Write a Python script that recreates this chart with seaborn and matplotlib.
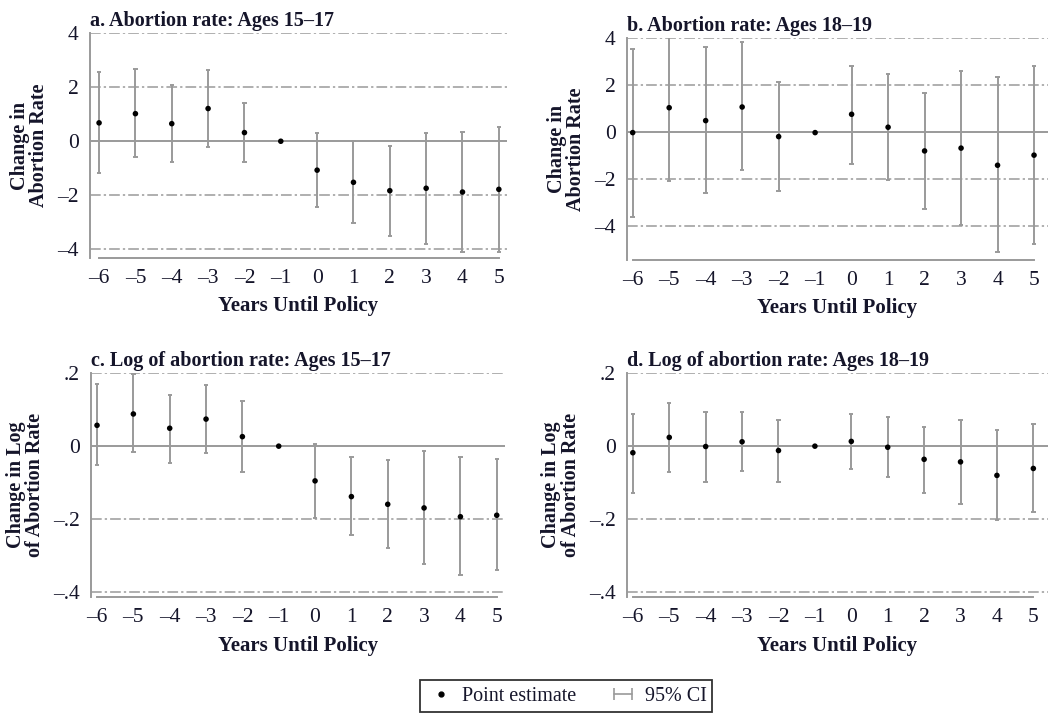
import numpy as np
import pandas as pd
import matplotlib
matplotlib.use("Agg")
import matplotlib.pyplot as plt
import seaborn as sns
from matplotlib.lines import Line2D
from matplotlib.legend_handler import HandlerLine2D

years = [-6, -5, -4, -3, -2, -1, 0, 1, 2, 3, 4, 5]

# a. Abortion rate: Ages 15-17
a_est = [0.68, 1.02, 0.65, 1.21, 0.32, 0.0, -1.07, -1.52, -1.83, -1.74, -1.88, -1.78]
a_lo = [-1.17, -0.59, -0.78, -0.22, -0.78, np.nan, -2.44, -3.04, -3.52, -3.81, -4.11, -4.11]
a_hi = [2.57, 2.69, 2.07, 2.63, 1.42, np.nan, 0.31, 0.0, -0.16, 0.31, 0.36, 0.54]

# b. Abortion rate: Ages 18-19
b_est = [-0.03, 1.03, 0.48, 1.06, -0.20, -0.03, 0.75, 0.20, -0.81, -0.69, -1.42, -0.99]
b_lo = [-3.63, -2.11, -2.59, -1.64, -2.52, np.nan, -1.36, -2.04, -3.27, -3.98, -5.13, -4.79]
b_hi = [3.55, 4.18, 3.63, 3.82, 2.12, np.nan, 2.80, 2.48, 1.64, 2.61, 2.34, 2.80]

# c. Log of abortion rate: Ages 15-17
c_est = [0.057, 0.088, 0.049, 0.074, 0.026, 0.0, -0.095, -0.138, -0.159, -0.169, -0.193, -0.189]
c_lo = [-0.052, -0.017, -0.045, -0.018, -0.071, np.nan, -0.197, -0.242, -0.279, -0.322, -0.353, -0.339]
c_hi = [0.169, 0.197, 0.141, 0.168, 0.124, np.nan, 0.005, -0.030, -0.039, -0.013, -0.030, -0.035]

# d. Log of abortion rate: Ages 18-19
d_est = [-0.018, 0.024, -0.001, 0.012, -0.012, 0.0, 0.013, -0.003, -0.036, -0.043, -0.080, -0.061]
d_lo = [-0.129, -0.070, -0.098, -0.067, -0.098, np.nan, -0.062, -0.084, -0.128, -0.159, -0.202, -0.180]
d_hi = [0.088, 0.119, 0.093, 0.093, 0.071, np.nan, 0.088, 0.079, 0.053, 0.071, 0.045, 0.061]

titles = ["a. Abortion rate: Ages 15\u201317", "b. Abortion rate: Ages 18\u201319",
          "c. Log of abortion rate: Ages 15\u201317", "d. Log of abortion rate: Ages 18\u201319"]
ylabel_rate = "Change in\nAbortion Rate"
ylabel_log = "Change in Log\nof Abortion Rate"
xlabel = "Years Until Policy"

rate_ticks = [-4, -2, 0, 2, 4]
rate_ticklabels = ["\u20134", "\u20132", "0", "2", "4"]
log_ticks = [-0.4, -0.2, 0, 0.2]
log_ticklabels = ["\u2013.4", "\u2013.2", "0", ".2"]

sns.set_style("white")
plt.rcParams['font.family'] = ['Liberation Serif', 'DejaVu Serif']
txt = '#15152a'
grey = '#9a9a9a'

fig = plt.figure(figsize=(10.5, 7.16), dpi=100)

panels = [
    (a_est, a_lo, a_hi, [0.0857, 0.6397, 0.397, 0.314], (-6.25, 5.22), (-4.32, 4), rate_ticks, rate_ticklabels, ylabel_rate),
    (b_est, b_lo, b_hi, [0.597, 0.637, 0.401, 0.310], (-6.16, 5.38), (-5.45, 4), rate_ticks, rate_ticklabels, ylabel_rate),
    (c_est, c_lo, c_hi, [0.0867, 0.166, 0.394, 0.313], (-6.165, 5.22), (-0.413, 0.2), log_ticks, log_ticklabels, ylabel_log),
    (d_est, d_lo, d_hi, [0.597, 0.166, 0.401, 0.313], (-6.165, 5.4), (-0.413, 0.2), log_ticks, log_ticklabels, ylabel_log),
]

for i, (est, lo, hi, pos, xl, yl, yt, ytl, ylab) in enumerate(panels):
    ax = fig.add_axes(pos)
    df = pd.DataFrame({'year': years, 'est': est, 'lo': lo, 'hi': hi})

    # grid lines
    for t in yt:
        if t == 0:
            ax.axhline(0, color=grey, lw=1.4, zorder=1)
        else:
            ax.axhline(t, color=grey, lw=1.1, ls=(0, (7, 2, 1.5, 2)), zorder=1)

    ci = df.dropna()
    ax.vlines(ci['year'], ci['lo'], ci['hi'], color=grey, lw=1.4, zorder=2)
    ax.hlines(ci['lo'], ci['year'] - 0.06, ci['year'] + 0.06, color=grey, lw=1.4, zorder=2)
    ax.hlines(ci['hi'], ci['year'] - 0.06, ci['year'] + 0.06, color=grey, lw=1.4, zorder=2)
    sns.scatterplot(data=df, x='year', y='est', ax=ax, color='black', s=16,
                    edgecolor='none', zorder=3, legend=False)

    ax.set_xlim(*xl)
    ax.set_ylim(*yl)
    ax.set_xticks(years)
    ax.set_xticklabels([str(y).replace('-', '\u2013') for y in years], fontsize=15.5, color=txt)
    ax.set_yticks(yt)
    ax.set_yticklabels(ytl, fontsize=15.5, color=txt)
    ax.tick_params(axis='both', direction='out', length=5, width=1.3, color=grey, pad=3)

    for s in ['top', 'right']:
        ax.spines[s].set_visible(False)
    ax.spines['left'].set_color(grey)
    ax.spines['left'].set_linewidth(1.4)
    ax.spines['bottom'].set_color(grey)
    ax.spines['bottom'].set_linewidth(1.4)
    ax.spines['bottom'].set_bounds(-6, 5)

    ax.set_title(titles[i], fontsize=14.5, fontweight='bold', color=txt, loc='left', pad=5)
    ax.set_ylabel(ylab, fontsize=14.5, fontweight='bold', color=txt, labelpad=6, linespacing=0.95)
    ax.set_xlabel(xlabel, fontsize=15, fontweight='bold', color=txt, labelpad=6)

h_pt = Line2D([0], [0], ls='none', marker='o', color='black', markersize=3.5)
h_ci = Line2D([0], [0], color=grey, lw=1.2, marker='|', markersize=8, markeredgewidth=1.2)
leg = fig.legend([h_pt, h_ci], ["Point estimate", "95% CI"], ncol=2,
                 loc='center', bbox_to_anchor=(566 / 1050, 1 - 696 / 716),
                 handler_map={h_pt: HandlerLine2D(numpoints=1), h_ci: HandlerLine2D(numpoints=2)},
                 fontsize=14.5, frameon=True, fancybox=False, edgecolor='black',
                 handlelength=1.5, handletextpad=0.3, columnspacing=1.6,
                 borderpad=0.3, borderaxespad=0)
leg.get_frame().set_linewidth(1.3)
for t in leg.get_texts():
    t.set_color(txt)

plt.savefig("out.png", dpi=100)
